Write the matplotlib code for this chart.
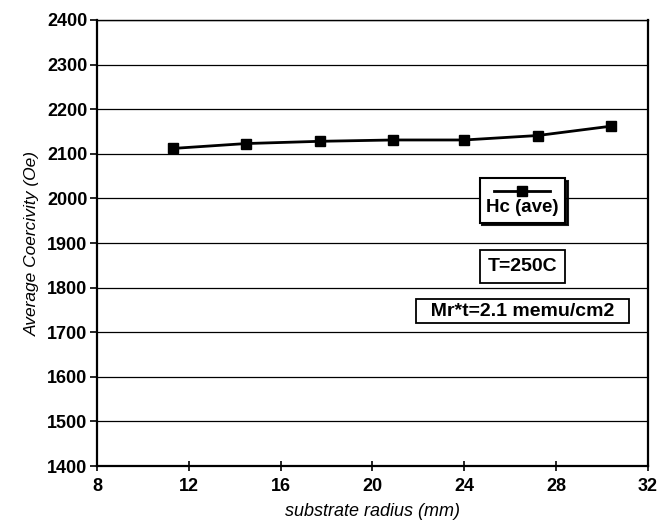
import matplotlib
matplotlib.use("Agg")
import matplotlib.pyplot as plt
from matplotlib.offsetbox import VPacker

plt.rcParams['font.family'] = ['Liberation Sans', 'DejaVu Sans']

# data
radius_mm = [11.3, 14.5, 17.7, 20.9, 24.0, 27.2, 30.4]
hc_ave = [2112, 2123, 2128, 2131, 2131, 2141, 2162]
x_ticks = [8, 12, 16, 20, 24, 28, 32]
y_ticks = list(range(1400, 2401, 100))

fig = plt.figure(figsize=(6.72, 5.21), dpi=100)
ax = fig.add_axes([97 / 672, 1 - 466 / 521, 551 / 672, 446 / 521])

ax.plot(radius_mm, hc_ave, color='black', lw=2, marker='s', ms=7,
        label='Hc (ave)', zorder=3)

ax.set_xlim(8, 32)
ax.set_ylim(1400, 2400)
ax.set_xticks(x_ticks)
ax.set_yticks(y_ticks)
ax.yaxis.grid(True, color='black', lw=0.9)
ax.set_axisbelow(True)

for s in ax.spines.values():
    s.set_linewidth(1.6)
ax.spines['top'].set_linewidth(1.0)
ax.tick_params(axis='x', direction='inout', length=7, width=1.2, labelsize=13, pad=5)
ax.tick_params(axis='y', direction='out', length=5, width=1.2, labelsize=13, pad=2)
for lab in ax.get_xticklabels() + ax.get_yticklabels():
    lab.set_fontweight('bold')

ax.set_xlabel('substrate radius (mm)', style='italic', fontsize=13, labelpad=6)
ax.set_ylabel('Average Coercivity (Oe)', style='italic', fontsize=12.5, labelpad=5)

# legend with the line sample stacked above the label
leg = ax.legend(loc='center', bbox_to_anchor=(0.772, 0.596), frameon=True,
                fancybox=False, shadow={'color': 'black', 'alpha': 0.9},
                edgecolor='black', prop={'weight': 'bold', 'size': 13.5},
                handlelength=3, borderpad=0.35, framealpha=1)
leg.get_frame().set_linewidth(1.5)
for col in leg._legend_handle_box.get_children():
    for item in col.get_children():
        item.__class__ = VPacker
        item.align = 'center'
        item.sep = 1

ax.text(0.772, 0.4478, 'T=250C', transform=ax.transAxes, ha='center', va='center',
        fontsize=14, fontweight='bold',
        bbox=dict(boxstyle='square,pad=0.4', fc='white', ec='black', lw=1.3))
ax.text(0.772, 0.3475, '  Mr*t=2.1 memu/cm2  ', transform=ax.transAxes, ha='center',
        va='center', fontsize=14, fontweight='bold',
        bbox=dict(boxstyle='square,pad=0.2', fc='white', ec='black', lw=1.3))

fig.savefig('out.png', dpi=100)
